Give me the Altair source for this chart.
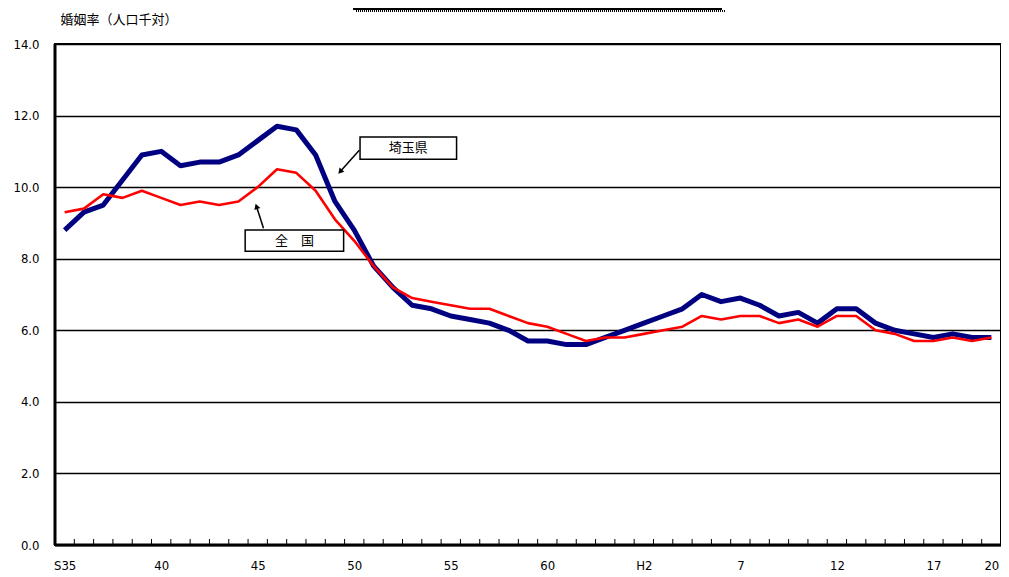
import altair as alt
import pandas as pd

years = list(range(1960, 2009))
saitama = [8.8, 9.3, 9.5, 10.2, 10.9, 11.0, 10.6, 10.7, 10.7, 10.9,
           11.3, 11.7, 11.6, 10.9, 9.6, 8.8, 7.8, 7.2, 6.7, 6.6,
           6.4, 6.3, 6.2, 6.0, 5.7, 5.7, 5.6, 5.6, 5.8, 6.0,
           6.2, 6.4, 6.6, 7.0, 6.8, 6.9, 6.7, 6.4, 6.5, 6.2,
           6.6, 6.6, 6.2, 6.0, 5.9, 5.8, 5.9, 5.8, 5.8]
zenkoku = [9.3, 9.4, 9.8, 9.7, 9.9, 9.7, 9.5, 9.6, 9.5, 9.6,
           10.0, 10.5, 10.4, 9.9, 9.1, 8.5, 7.8, 7.2, 6.9, 6.8,
           6.7, 6.6, 6.6, 6.4, 6.2, 6.1, 5.9, 5.7, 5.8, 5.8,
           5.9, 6.0, 6.1, 6.4, 6.3, 6.4, 6.4, 6.2, 6.3, 6.1,
           6.4, 6.4, 6.0, 5.9, 5.7, 5.7, 5.8, 5.7, 5.8]
tick_years = [1960, 1965, 1970, 1975, 1980, 1985, 1990, 1995, 2000, 2005, 2008]
tick_labels = ["S35", "40", "45", "50", "55", "60", "H2", "7", "12", "17", "20"]
y_ticks = [0, 2, 4, 6, 8, 10, 12, 14]

# annotation boxes (data coordinates)
ann_text = ["埼玉県", "全　国"]
ann_x = [1977.8, 1971.9]
ann_y = [11.08, 8.5]
box_x1 = [1975.3, 1969.35]
box_x2 = [1980.3, 1974.45]
box_y1 = [10.78, 8.21]
box_y2 = [11.40, 8.80]
arr_x1 = [1975.26, 1970.3]
arr_y1 = [11.03, 8.85]
arr_x2 = [1974.3, 1969.95]
arr_y2 = [10.45, 9.44]
arr_angle = [221, 342]

NUM_FONT = "Liberation Sans Narrow, Arial Narrow, DejaVu Sans Condensed, Liberation Sans, sans-serif"
JP_FONT = "Noto Sans CJK JP"

df_s = pd.DataFrame({"year": years, "rate": saitama})
df_z = pd.DataFrame({"year": years, "rate": zenkoku})
df_ticks = pd.DataFrame({"b": [y + 0.5 for y in years[:-1]]})
df_ann = pd.DataFrame({"t": ann_text, "x": ann_x, "y": ann_y,
                       "bx1": box_x1, "bx2": box_x2, "by1": box_y1, "by2": box_y2,
                       "ax1": arr_x1, "ay1": arr_y1, "ax2": arr_x2, "ay2": arr_y2,
                       "ang": arr_angle})

label_expr = "".join(f"datum.value == {y} ? '{l}' : " for y, l in zip(tick_years, tick_labels)) + "''"

xscale = alt.Scale(domain=[1959.5, 2008.5], nice=False, zero=False)
yscale = alt.Scale(domain=[0, 14], nice=False)

x_enc = alt.X("year:Q", scale=xscale,
              axis=alt.Axis(values=tick_years, labelExpr=label_expr, title=None, grid=False,
                            ticks=False, domain=False, labelPadding=14, labelFontSize=13,
                            labelFont=NUM_FONT, labelColor="black", labelOverlap=False))
y_enc = alt.Y("rate:Q", scale=yscale,
              axis=alt.Axis(values=y_ticks, format=".1f", grid=True, gridColor="black",
                            gridWidth=1.6, gridOpacity=1, ticks=False, domain=False,
                            labelPadding=16, labelFontSize=13, labelFont=NUM_FONT,
                            labelColor="black", title="婚姻率（人口千対）", titleAngle=0,
                            titleX=5, titleY=-25, titleAlign="left", titleBaseline="middle",
                            titleFont=JP_FONT, titleFontSize=13, titleFontWeight="normal",
                            titleColor="black"))

line_s = alt.Chart(df_s).mark_line(color="#000080", strokeWidth=5, strokeJoin="round").encode(x=x_enc, y=y_enc)
line_z = alt.Chart(df_z).mark_line(color="#ff0000", strokeWidth=2.6, strokeJoin="round").encode(
    x=alt.X("year:Q", scale=xscale), y=alt.Y("rate:Q", scale=yscale))

ticks = alt.Chart(df_ticks).mark_rule(color="black", strokeWidth=1).encode(
    x=alt.X("b:Q", scale=xscale), y=alt.value(501), y2=alt.value(495))

boxes = alt.Chart(df_ann).mark_rect(fill="white", stroke="black", strokeWidth=1.5).encode(
    x=alt.X("bx1:Q", scale=xscale), x2="bx2:Q",
    y=alt.Y("by1:Q", scale=yscale), y2="by2:Q")
texts = alt.Chart(df_ann).mark_text(font=JP_FONT, fontSize=13, color="black").encode(
    x=alt.X("x:Q", scale=xscale), y=alt.Y("y:Q", scale=yscale), text="t:N")
arrows = alt.Chart(df_ann).mark_rule(color="black", strokeWidth=1.5).encode(
    x=alt.X("ax1:Q", scale=xscale), x2="ax2:Q",
    y=alt.Y("ay1:Q", scale=yscale), y2="ay2:Q")
heads = alt.Chart(df_ann).mark_point(shape="triangle", filled=True, color="black", size=40, opacity=1).encode(
    x=alt.X("ax2:Q", scale=xscale), y=alt.Y("ay2:Q", scale=yscale), angle=alt.Angle("ang:Q", scale=None))

left_edge = alt.Chart(df_ann.head(1)).mark_rule(color="black", strokeWidth=3).encode(
    x=alt.value(0), y=alt.value(0), y2=alt.value(501))
bottom_edge = alt.Chart(df_ann.head(1)).mark_rule(color="black", strokeWidth=3).encode(
    x=alt.value(0), x2=alt.value(946), y=alt.value(501))

title_box = alt.Chart(df_ann.head(1)).mark_rule(color="black", strokeWidth=2).encode(
    x=alt.value(298), x2=alt.value(667), y=alt.value(-35))
title_shadow = alt.Chart(df_ann.head(1)).mark_rule(color="black", strokeWidth=2, strokeDash=[1, 1]).encode(
    x=alt.value(301), x2=alt.value(670), y=alt.value(-33))

chart = alt.layer(line_s, line_z, ticks, arrows, heads, boxes, texts, left_edge, bottom_edge,
                  title_box, title_shadow).properties(
    width=946, height=501,
    autosize=alt.AutoSizeParams(type="none"),
    padding={"left": 47, "top": 36, "right": 0, "bottom": 31},
    background="white",
).configure_view(stroke="black", strokeWidth=2)

chart.save("out.html", embed_options={"renderer": "svg", "actions": False})
